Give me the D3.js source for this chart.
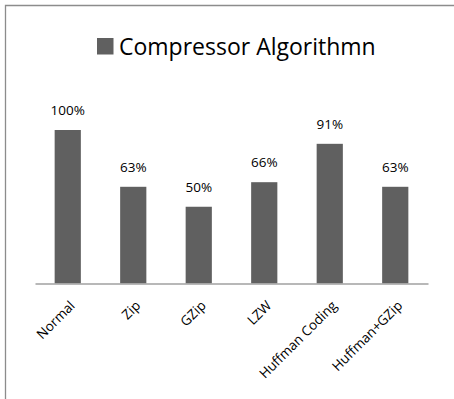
<!DOCTYPE html>
<html>
<head>
<meta charset="utf-8">
<script src="https://cdn.jsdelivr.net/npm/d3@7/dist/d3.min.js"></script>
<style>
  html, body { margin: 0; padding: 0; background: #fff; overflow: hidden; }
  svg { display: block; }
  text { font-family: "Open Sans", "Noto Sans", sans-serif; fill: #000; }
</style>
</head>
<body>
<svg id="chart" width="454" height="399"></svg>
<script>
// Compression ratio per algorithm (fraction of original size)
const categories = ["Normal", "Zip", "GZip", "LZW", "Huffman Coding", "Huffman+GZip"];
const values = [1.00, 0.63, 0.50, 0.66, 0.91, 0.63];
const seriesName = "Compressor Algorithmn";

const W = 454, H = 399;
const svg = d3.select("#chart");

// chart frame: only the top and left edges fall inside the page
svg.append("path")
  .attr("d", `M5.5,${H} V5.5 H${W}`)
  .attr("fill", "none")
  .attr("stroke", "#8c8c8c")
  .attr("stroke-width", 1.3);

const x = d3.scaleBand()
  .domain(categories)
  .range([35, 428])
  .paddingInner(0.6)
  .paddingOuter(0.3);

const y = d3.scaleLinear()
  .domain([0, 1])
  .range([283.5, 130]);

const barColor = "#606060";

// legend / title
const legend = svg.append("g");
legend.append("rect")
  .attr("x", 97).attr("y", 38)
  .attr("width", 16.5).attr("height", 16.5)
  .attr("fill", barColor);
legend.append("text")
  .attr("x", 119).attr("y", 55)
  .attr("font-size", 23)
  .text(seriesName);

// bars
svg.append("g")
  .selectAll("rect")
  .data(values)
  .join("rect")
  .attr("x", (d, i) => x(categories[i]))
  .attr("y", d => y(d))
  .attr("width", x.bandwidth())
  .attr("height", d => y(0) - y(d))
  .attr("fill", barColor);

// value labels
svg.append("g")
  .selectAll("text")
  .data(values)
  .join("text")
  .attr("x", (d, i) => x(categories[i]) + x.bandwidth() / 2)
  .attr("y", d => y(d) - 15)
  .attr("text-anchor", "middle")
  .attr("font-size", 13.5)
  .text(d => d3.format(".0%")(d));

// category axis
const xAxis = svg.append("g")
  .attr("transform", `translate(0,${y(0)})`)
  .call(d3.axisBottom(x).tickSize(0).tickSizeOuter(0).tickPadding(0));
xAxis.select(".domain")
  .attr("stroke", "#a0a0a0")
  .attr("stroke-width", 1.5);
xAxis.selectAll(".tick text")
  .attr("font-family", "\"Open Sans\", \"Noto Sans\", sans-serif")
  .attr("font-size", 13.5)
  .attr("fill", "#000")
  .attr("text-anchor", "end")
  .attr("dy", 0)
  .attr("y", 0)
  .attr("transform", "translate(8,23) rotate(-45)");
</script>
</body>
</html>
